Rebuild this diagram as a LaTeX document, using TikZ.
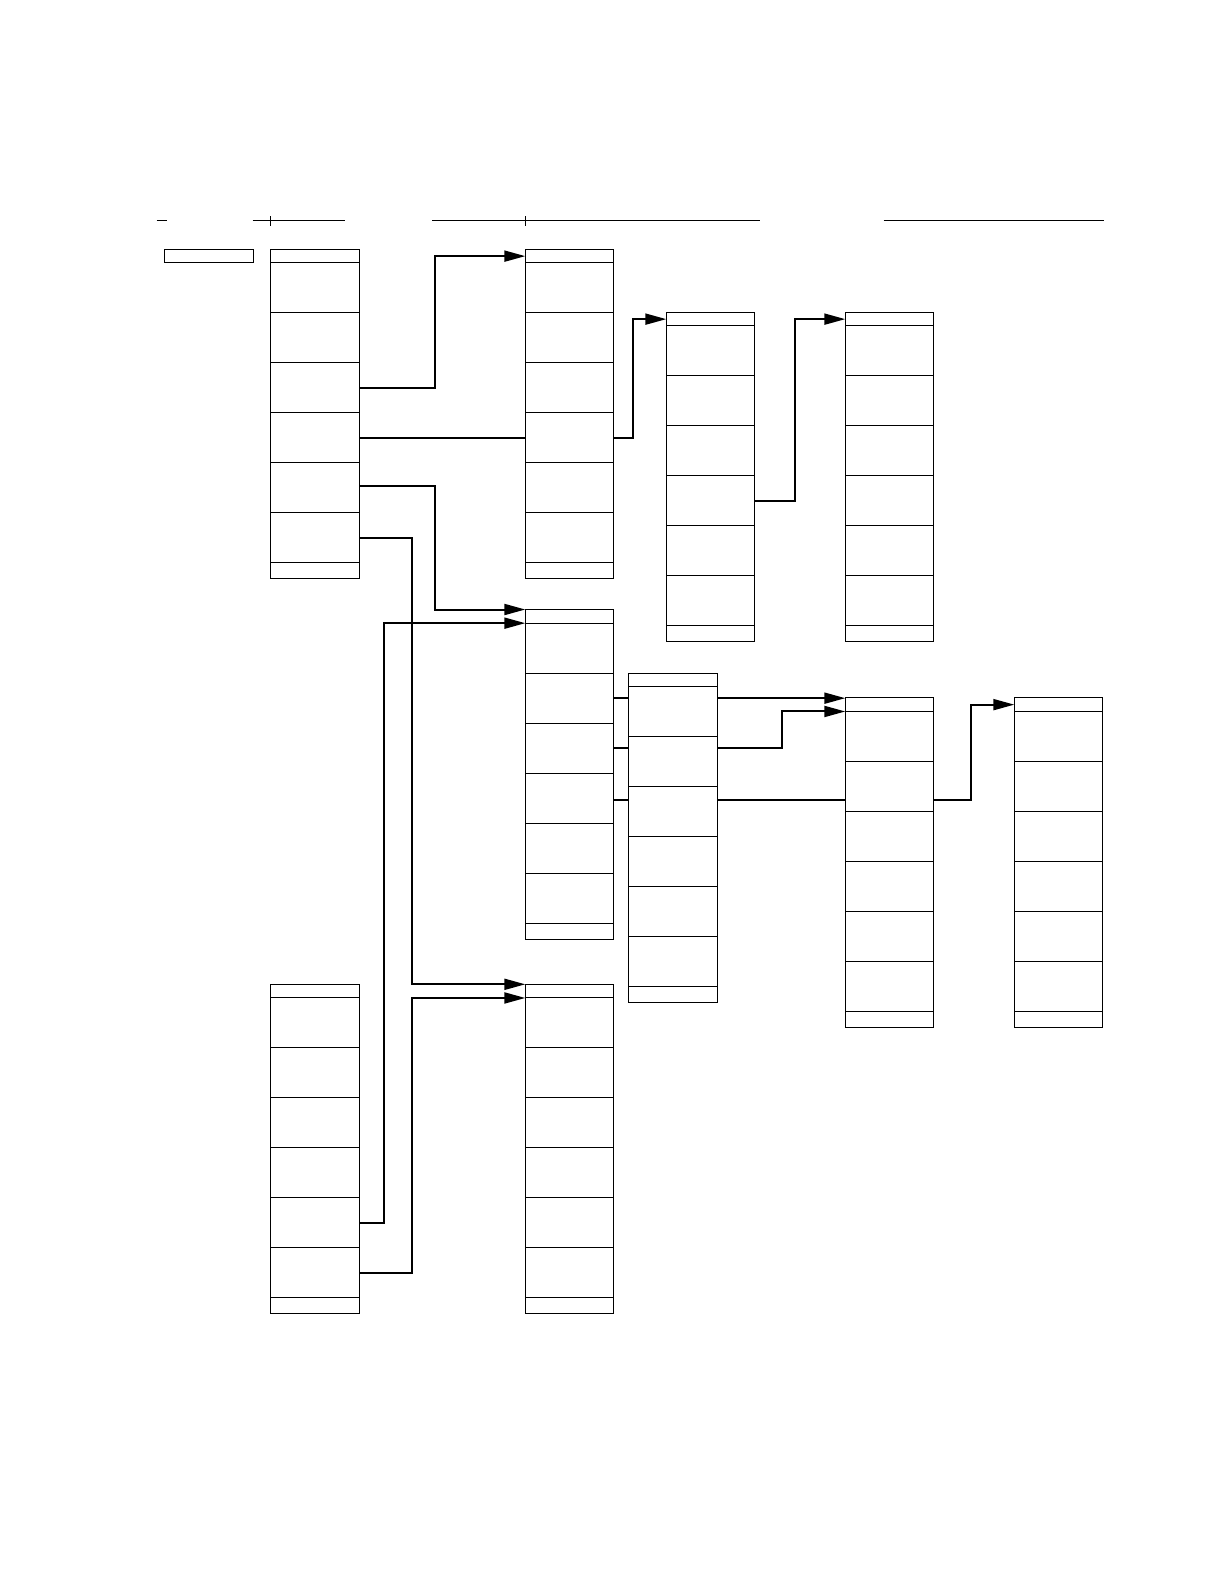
\documentclass[tikz,border=0pt]{standalone}
\usepackage{tikz}
\usetikzlibrary{positioning,arrows.meta}
\pgfdeclarelayer{back}
\pgfsetlayers{back,main}

\begin{document}
\begin{tikzpicture}[
  x=0.6pt, y=-0.6pt,
  rhead/.style={draw, fill=white, line width=0.6pt, inner sep=0pt, outer sep=0pt, minimum width=53.1pt, minimum height=8.2pt},
  rfield/.style={rhead, minimum height=30pt},
  rfoot/.style={rhead, minimum height=9.5pt},
  pwire/.style={line width=1.2pt},
  plink/.style={pwire, -{Triangle[length=12.6pt,width=6.6pt]}},
  pruler/.style={line width=0.6pt},
]
\useasboundingbox (0,0) rectangle (1224,1584);
\foreach \rec/\px/\py in {A1/270.7/249.3, B1/525.3/249.3, C1/666.3/312.3, D1/845.3/312.3,
    B2/525.3/609.5, M/628.7/673.3, D2/845.3/697.8, E2/1014.3/697.8, A2/270.7/984.3, B3/525.3/984.3}{
  \node[rhead, anchor=north west] (\rec-0) at (\px,\py) {};
  \foreach \i [remember=\i as \j (initially 0)] in {1,...,6}
    \node[rfield, below=0pt of \rec-\j] (\rec-\i) {};
  \node[rfoot, below=0pt of \rec-6] (\rec-7) {};
}
\node[rhead, anchor=north west, minimum width=53.6pt, minimum height=7.8pt] (key) at (164.3,249.3) {};

\draw[pruler] (156.5,220.3) -- (166.6,220.3);
\draw[pruler] (252.5,220.3) -- (344.5,220.3);
\draw[pruler] (432,220.3) -- (759.5,220.3);
\draw[pruler] (883.7,220.3) -- (1103.8,220.3);
\draw[pruler] (A1-0.west |- 0,216) -- (A1-0.west |- 0,225.7);
\draw[pruler] (B1-0.west |- 0,216) -- (B1-0.west |- 0,225.7);

\begin{pgfonlayer}{back}
\draw[plink] (A1-3.east) -- ++(75.5,0) |- (B1-0.west);
\draw[plink] (A1-4.east) -- (B1-4.east) -- ++(18.9,0) |- (C1-0.west);
\draw[plink] ([yshift=0.9pt]A1-5.east) -- ++(75.5,0) |- (B2-0.north west);
\draw[plink] (A1-6.east) -- ++(52.8,0) |- (B3-0.north west);
\draw[plink] (A2-5.east) -- ++(24.8,0) |- (B2-0.south west);
\draw[plink] (A2-6.east) -- ++(52.8,0) |- (B3-0.south west);
\draw[plink] (C1-4.east) -- ++(39.9,0) |- (D1-0.west);
\draw[plink] (B2-2.east) -- (B2-2.east -| D2-0.west);
\draw[plink] (B2-3.east) -- ++(168.2,0) |- (D2-0.south west);
\draw[plink] ([yshift=-1.2pt]B2-4.east) -- ([yshift=-1.2pt]B2-4.east -| D2-0.east) -- ++(37.2,0) |- (E2-0.west);
\end{pgfonlayer}
\end{tikzpicture}
\end{document}
